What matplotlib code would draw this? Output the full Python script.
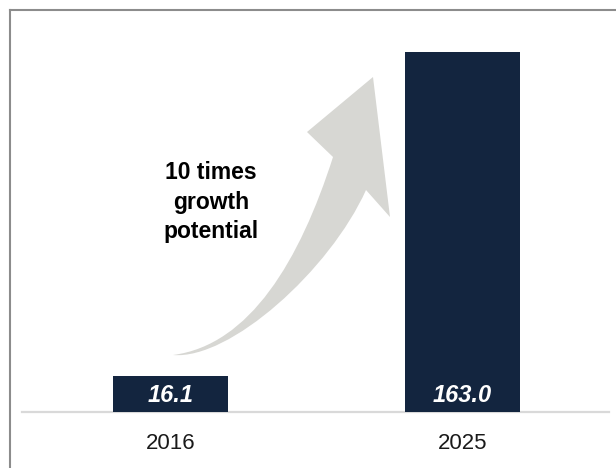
import numpy as np
import matplotlib.pyplot as plt
from matplotlib.path import Path
from matplotlib.patches import PathPatch
from matplotlib.lines import Line2D
from matplotlib.transforms import Affine2D

plt.rcParams['font.family'] = ['Liberation Sans', 'DejaVu Sans']

# data
years = ['2016', '2025']
values = np.array([16.1, 163.0])
value_labels = ['16.1', '163.0']

W, H = 616, 468
fig = plt.figure(figsize=(W / 100, H / 100), dpi=100)

# axes placed in pixel terms (top-left origin)
left, right, top, base = 22, 609, 12, 412
ax = fig.add_axes([left / W, (H - base) / H, (right - left) / W, (base - top) / H])

x = np.arange(len(years))
ax.bar(x, values, width=0.396, color='#13253f', zorder=3)
ax.set_xlim(-0.5086, 1.5017)
ax.set_ylim(0, 181.2)

ax.set_xticks(x, years)
ax.tick_params(axis='x', length=0, pad=15, labelsize=16, labelcolor='#1a1a1a')
ax.set_yticks([])
for s in ['top', 'left', 'right']:
    ax.spines[s].set_visible(False)
ax.spines['bottom'].set_color('#d9d9d9')
ax.spines['bottom'].set_linewidth(1.6)

# value labels inside bars, near baseline
for i in x:
    ax.annotate(value_labels[i], xy=(x[i], 0), xytext=(0, 12),
                textcoords='offset points', ha='center', va='center',
                color='white', fontsize=17, fontweight='bold', fontstyle='italic',
                zorder=4)

# curved growth arrow (pixel coords, top-left origin)
to_disp = Affine2D().scale(1, -1).translate(0, H)
verts = [(173, 355),
         (250, 345), (300, 260), (333, 157),
         (307, 132), (373, 77), (390, 217), (366, 190),
         (330, 270), (230, 360), (173, 355),
         (173, 355)]
codes = [Path.MOVETO,
         Path.CURVE4, Path.CURVE4, Path.CURVE4,
         Path.LINETO, Path.LINETO, Path.LINETO, Path.LINETO,
         Path.CURVE4, Path.CURVE4, Path.CURVE4,
         Path.CLOSEPOLY]
arrow = PathPatch(Path(verts, codes), facecolor='#d7d7d3', edgecolor='none',
                  transform=to_disp, zorder=2)
fig.patches.append(arrow)

fig.text(211 / W, 1 - 202 / H, '10 times\ngrowth\npotential', ha='center', va='center',
         fontsize=16.5, fontweight='bold', color='black', linespacing=1.38)

# frame lines on left and top
fig.add_artist(Line2D([10 / W, 10 / W], [0, 1 - 9.5 / H], color='#8c8c8c', lw=1.5))
fig.add_artist(Line2D([10 / W, 1], [1 - 9.5 / H, 1 - 9.5 / H], color='#8c8c8c', lw=1.5))

fig.savefig('out.png', dpi=100)
